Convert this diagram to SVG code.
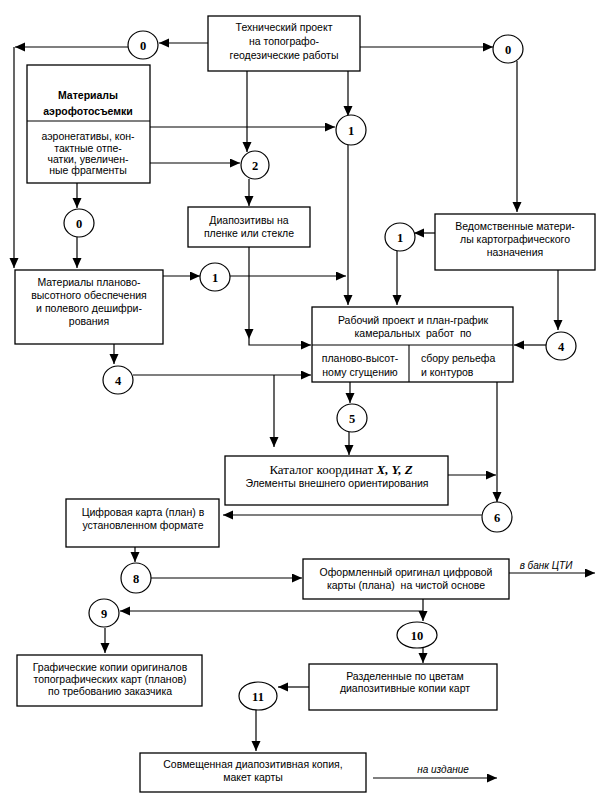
<svg xmlns="http://www.w3.org/2000/svg" width="605" height="807" viewBox="0 0 605 807">
<style>
.box{fill:#fff;stroke:#000;stroke-width:1.3}
.sep{stroke:#000;stroke-width:1.1;fill:none}
.cir{fill:#fff;stroke:#000;stroke-width:1.2}
.t{font-family:"Liberation Sans",Arial,sans-serif;font-size:10.5px;fill:#000;text-anchor:middle}
.tl{font-family:"Liberation Sans",Arial,sans-serif;font-size:10.5px;fill:#000}
.b{font-weight:bold}
.num{font-family:"Liberation Serif","Times New Roman",serif;font-size:12.5px;font-weight:bold;fill:#000;text-anchor:middle}
.cat{font-family:"Liberation Serif","Times New Roman",serif;font-size:13px;fill:#000;text-anchor:middle}
.it{font-family:"Liberation Sans",Arial,sans-serif;font-size:10px;font-style:italic;fill:#000;text-anchor:middle}
.c{fill:none;stroke:#000;stroke-width:1.2}
</style>
<defs>
<marker id="a" markerUnits="userSpaceOnUse" markerWidth="11" markerHeight="10" refX="10" refY="4.5" orient="auto">
<path d="M0,0 L10,4.5 L0,9 z" fill="#000"/>
</marker>
</defs>
<g id="connectors">
<path class="c" d="M208,43 H159" marker-end="url(#a)"/>
<path class="c" d="M128,47 H15" marker-end="url(#a)"/>
<path class="c" d="M14,47 V268" marker-end="url(#a)"/>
<path class="c" d="M360,47 H493" marker-end="url(#a)"/>
<path class="c" d="M517,61 V212" marker-end="url(#a)"/>
<path class="c" d="M247,71 V152" marker-end="url(#a)"/>
<path class="c" d="M348,71 V116" marker-end="url(#a)"/>
<path class="c" d="M150,127 H335" marker-end="url(#a)"/>
<path class="c" d="M150,163 H240" marker-end="url(#a)"/>
<path class="c" d="M249,179 V206" marker-end="url(#a)"/>
<path class="c" d="M77,183 V208" marker-end="url(#a)"/>
<path class="c" d="M77,237 V268" marker-end="url(#a)"/>
<path class="c" d="M163,276 H200" marker-end="url(#a)"/>
<path class="c" d="M230,276 H346" marker-end="url(#a)"/>
<path class="c" d="M348,145 V305" marker-end="url(#a)"/>
<path class="c" d="M435,233 H414" marker-end="url(#a)"/>
<path class="c" d="M397,251 V305" marker-end="url(#a)"/>
<path class="c" d="M558,270 V330" marker-end="url(#a)"/>
<path class="c" d="M546,345 H514" marker-end="url(#a)"/>
<path class="c" d="M249,247 V339" marker-end="url(#a)"/>
<path class="c" d="M249,339 V345 H311" marker-end="url(#a)"/>
<path class="c" d="M114,344 V364" marker-end="url(#a)"/>
<path class="c" d="M133,375 H311" marker-end="url(#a)"/>
<path class="c" d="M274,375 V447" marker-end="url(#a)"/>
<path class="c" d="M350,382 V403" marker-end="url(#a)"/>
<path class="c" d="M349,432 V455" marker-end="url(#a)"/>
<path class="c" d="M497,382 V502" marker-end="url(#a)"/>
<path class="c" d="M448,475 H496" marker-end="url(#a)"/>
<path class="c" d="M482,515 H223" marker-end="url(#a)"/>
<path class="c" d="M135,547 V562" marker-end="url(#a)"/>
<path class="c" d="M151,578 H302" marker-end="url(#a)"/>
<path class="c" d="M509,573 H595" marker-end="url(#a)"/>
<path class="c" d="M423,599 V621" marker-end="url(#a)"/>
<path class="c" d="M423,611 H120" marker-end="url(#a)"/>
<path class="c" d="M423,648 V663" marker-end="url(#a)"/>
<path class="c" d="M309,687 H278" marker-end="url(#a)"/>
<path class="c" d="M256,710 V751" marker-end="url(#a)"/>
<path class="c" d="M105,628 V653" marker-end="url(#a)"/>
<path class="c" d="M373,778 H497" marker-end="url(#a)"/>
<text class="it" x="546" y="569">в банк ЦТИ</text>
<text class="it" x="443" y="773">на издание</text>
</g>
<g id="n_tech">
<rect class="box" x="208" y="16" width="152" height="55"/>
<text class="t" x="284" y="31">Технический проект</text>
<text class="t" x="284" y="45">на топографо-</text>
<text class="t" x="284" y="59">геодезические работы</text>
</g>
<g id="c0a"><ellipse class="cir" cx="143" cy="45" rx="15" ry="14"/><text class="num" x="143" y="50">0</text></g>
<g id="c0b"><ellipse class="cir" cx="508" cy="49" rx="15" ry="14"/><text class="num" x="508" y="54">0</text></g>
<g id="n_aero">
<rect class="box" x="27" y="65" width="123" height="118"/>
<line class="sep" x1="27" y1="121" x2="150" y2="121"/>
<text class="t b" x="88" y="99">Материалы</text>
<text class="t b" x="88" y="115">аэрофотосъемки</text>
<text class="t" x="88" y="140">аэронегативы, кон-</text>
<text class="t" x="88" y="152">тактные отпе-</text>
<text class="t" x="88" y="163">чатки, увеличен-</text>
<text class="t" x="88" y="174">ные фрагменты</text>
</g>
<g id="c1a"><ellipse class="cir" cx="351" cy="130" rx="15" ry="15"/><text class="num" x="351" y="135">1</text></g>
<g id="c2"><ellipse class="cir" cx="255" cy="165" rx="14" ry="14"/><text class="num" x="255" y="170">2</text></g>
<g id="n_diapos">
<rect class="box" x="188" y="207" width="122" height="40"/>
<text class="t" x="249" y="224">Диапозитивы на</text>
<text class="t" x="249" y="237">пленке или стекле</text>
</g>
<g id="c0c"><ellipse class="cir" cx="79" cy="223" rx="15" ry="14"/><text class="num" x="79" y="228">0</text></g>
<g id="n_vedom">
<rect class="box" x="435" y="214" width="160" height="56"/>
<text class="t" x="515" y="230">Ведомственные матери-</text>
<text class="t" x="515" y="243">лы картографического</text>
<text class="t" x="515" y="256">назначения</text>
</g>
<g id="c1c"><ellipse class="cir" cx="400" cy="237" rx="15" ry="14"/><text class="num" x="400" y="242">1</text></g>
<g id="n_plan">
<rect class="box" x="15" y="270" width="148" height="74"/>
<text class="t" x="89" y="286">Материалы планово-</text>
<text class="t" x="89" y="299">высотного обеспечения</text>
<text class="t" x="89" y="312">и полевого дешифри-</text>
<text class="t" x="89" y="325">рования</text>
</g>
<g id="c1b"><ellipse class="cir" cx="215" cy="277" rx="15" ry="14"/><text class="num" x="215" y="282">1</text></g>
<g id="n_work">
<rect class="box" x="312" y="307" width="201" height="75"/>
<line class="sep" x1="312" y1="345" x2="513" y2="345"/>
<line class="sep" x1="409" y1="345" x2="409" y2="382"/>
<text class="t" x="413" y="324">Рабочий проект и план-график</text>
<text class="t" x="413" y="337">камеральных&#160; работ&#160; по</text>
<text class="t" x="360" y="362">планово-высот-</text>
<text class="t" x="360" y="376">ному сгущению</text>
<text class="tl" x="421" y="362">сбору рельефа</text>
<text class="tl" x="421" y="376">и контуров</text>
</g>
<g id="c4b"><ellipse class="cir" cx="561" cy="346" rx="15" ry="14"/><text class="num" x="561" y="351">4</text></g>
<g id="c4a"><ellipse class="cir" cx="118" cy="380" rx="15" ry="14"/><text class="num" x="118" y="385">4</text></g>
<g id="c5"><ellipse class="cir" cx="352" cy="418" rx="15" ry="14"/><text class="num" x="352" y="423">5</text></g>
<g id="n_catalog">
<rect class="box" x="225" y="456" width="223" height="49"/>
<text class="cat" x="341" y="474">Каталог координат <tspan font-weight="bold" font-style="italic">X, Y, Z</tspan></text>
<text class="t" x="337" y="487">Элементы внешнего ориентирования</text>
</g>
<g id="c6"><ellipse class="cir" cx="497" cy="517" rx="15" ry="15"/><text class="num" x="497" y="522">6</text></g>
<g id="n_digital">
<rect class="box" x="66" y="499" width="153" height="48"/>
<text class="t" x="143" y="516">Цифровая карта (план) в</text>
<text class="t" x="143" y="529">установленном формате</text>
</g>
<g id="c8"><ellipse class="cir" cx="136" cy="578" rx="15" ry="15"/><text class="num" x="136" y="583">8</text></g>
<g id="n_final">
<rect class="box" x="303" y="559" width="206" height="40"/>
<text class="t" x="406" y="576">Оформленный оригинал цифровой</text>
<text class="t" x="406" y="589">карты (плана)&#160; на чистой основе</text>
</g>
<g id="c9"><ellipse class="cir" cx="104" cy="613" rx="15" ry="14"/><text class="num" x="104" y="618">9</text></g>
<g id="c10"><ellipse class="cir" cx="417" cy="635" rx="20" ry="13"/><text class="num" x="417" y="640">10</text></g>
<g id="n_graph">
<rect class="box" x="17" y="655" width="185" height="51"/>
<text class="t" x="110" y="671">Графические копии оригиналов</text>
<text class="t" x="110" y="683">топографических карт (планов)</text>
<text class="t" x="110" y="695">по требованию заказчика</text>
</g>
<g id="n_sep">
<rect class="box" x="309" y="664" width="188" height="46"/>
<text class="t" x="405" y="680">Разделенные по цветам</text>
<text class="t" x="405" y="692">диапозитивные копии карт</text>
</g>
<g id="c11"><ellipse class="cir" cx="258" cy="696" rx="19" ry="14"/><text class="num" x="258" y="701">11</text></g>
<g id="n_comb">
<rect class="box" x="140" y="753" width="226" height="39"/>
<text class="t" x="253" y="768">Совмещенная диапозитивная копия,</text>
<text class="t" x="253" y="781">макет карты</text>
</g>
</svg>
